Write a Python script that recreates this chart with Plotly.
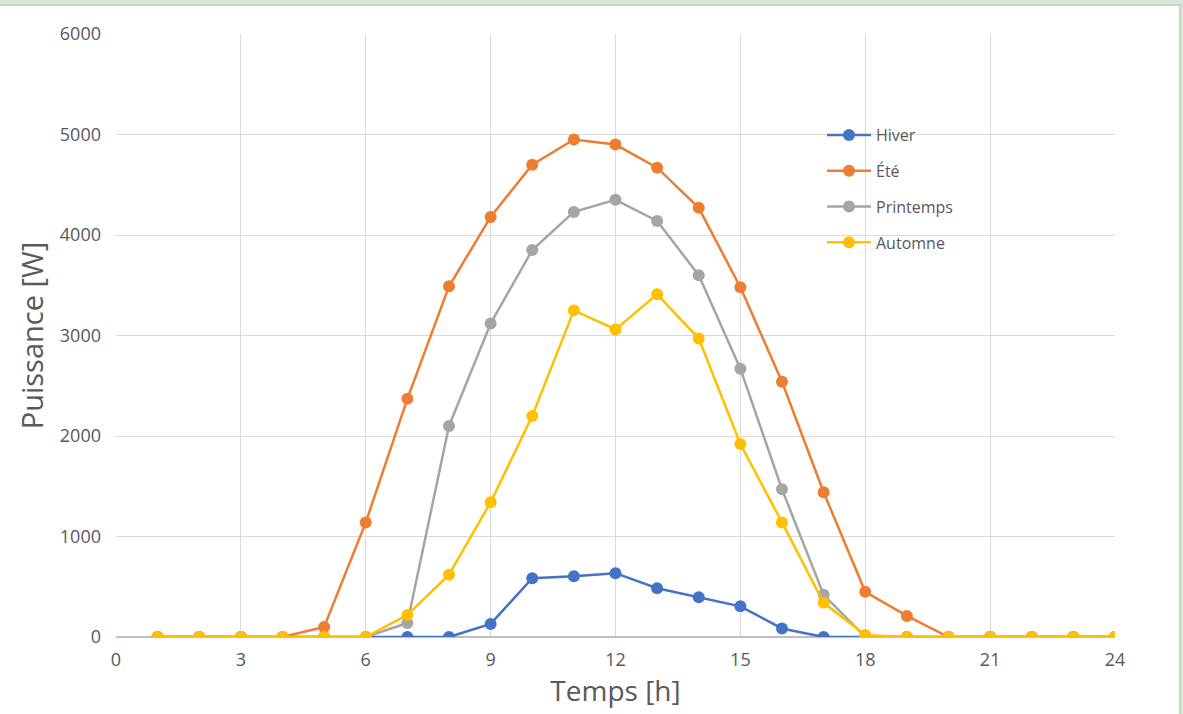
import plotly.graph_objects as go

hours = list(range(1, 25))
hiver = [0, 0, 0, 0, 0, 0, 0, 0, 130, 585, 605, 635, 485, 395, 305, 85, 0, 0, 0, 0, 0, 0, 0, 0]
ete = [0, 0, 0, 0, 100, 1140, 2370, 3490, 4180, 4700, 4950, 4900, 4670, 4270, 3480, 2540, 1440, 450, 210, 0, 0, 0, 0, 0]
printemps = [0, 0, 0, 0, 0, 0, 140, 2100, 3120, 3850, 4230, 4350, 4140, 3600, 2670, 1470, 420, 0, 0, 0, 0, 0, 0, 0]
automne = [0, 0, 0, 0, 0, 0, 220, 620, 1340, 2200, 3250, 3060, 3410, 2970, 1920, 1140, 340, 20, 0, 0, 0, 0, 0, 0]

series = [
    ("Hiver", hiver, "#4472C4"),
    ("Été", ete, "#ED7D31"),
    ("Printemps", printemps, "#A5A5A5"),
    ("Automne", automne, "#FFC000"),
]

W, H = 1183, 714
ML, MR, MT, MB = 116, 68, 34, 77
PW, PH = W - ML - MR, H - MT - MB

fig = go.Figure()
for i, (name, vals, col) in enumerate(series):
    fig.add_trace(go.Scatter(
        x=hours, y=vals, name=name, mode="lines+markers",
        line=dict(color=col, width=2.5),
        marker=dict(color=col, size=12),
        legendgroup=f"g{i}",
    ))

font_family = "Open Sans, Noto Sans, sans-serif"
fig.update_layout(
    width=W, height=H,
    margin=dict(l=ML, r=MR, t=MT, b=MB),
    paper_bgcolor="#D5E8D4",
    plot_bgcolor="white",
    font=dict(family=font_family, color="#595959", size=16),
    showlegend=True,
    legend=dict(
        x=(822 - ML) / PW, y=(637 - 118) / PH, xanchor="left", yanchor="top",
        bgcolor="rgba(0,0,0,0)", font=dict(size=16, color="#595959"),
        traceorder="grouped", tracegroupgap=12, itemwidth=44,
    ),
    shapes=[dict(
        type="rect", xref="paper", yref="paper", layer="below",
        x0=-0.3, x1=(1180 - ML) / PW, y0=-0.3, y1=(637 - 5) / PH,
        fillcolor="white", line=dict(color="#D0D0D0", width=2),
    )],
)
fig.update_xaxes(
    range=[0, 24], dtick=3, tick0=0, showgrid=True, gridcolor="#D9D9D9", gridwidth=1,
    zeroline=False, showline=False, ticks="", ticklabelstandoff=10,
    tickfont=dict(size=18, color="#595959"),
    title=dict(text="Temps [h]", font=dict(size=28, color="#595959"), standoff=10),
)
fig.update_yaxes(
    range=[0, 6000], dtick=1000, showgrid=True, gridcolor="#D9D9D9", gridwidth=1,
    zeroline=True, zerolinecolor="#BFBFBF", zerolinewidth=1.5, showline=False, ticks="",
    ticklabelstandoff=14,
    tickfont=dict(size=18, color="#595959"),
    title=dict(text="Puissance [W]", font=dict(size=29, color="#595959"), standoff=7),
)

fig.write_html("out.html")
